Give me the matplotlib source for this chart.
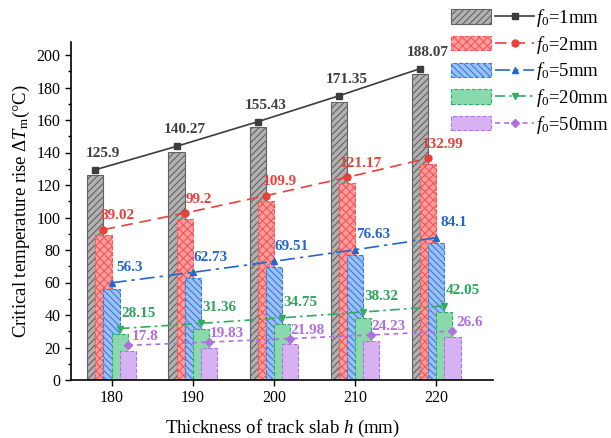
import numpy as np
import matplotlib
matplotlib.use("Agg")
import matplotlib.pyplot as plt
from matplotlib.transforms import ScaledTranslation
from matplotlib.legend_handler import HandlerTuple
from matplotlib.patches import Patch
from matplotlib.lines import Line2D

plt.rcParams['font.family'] = ['Liberation Serif', 'DejaVu Serif']
plt.rcParams['mathtext.fontset'] = 'custom'
plt.rcParams['mathtext.rm'] = 'Liberation Serif'
plt.rcParams['mathtext.it'] = 'Liberation Serif:italic'
plt.rcParams['mathtext.bf'] = 'Liberation Serif:bold'
plt.rcParams['hatch.linewidth'] = 0.8

# 数据
h = [180, 190, 200, 210, 220]
f1 = [125.9, 140.27, 155.43, 171.35, 188.07]
f2 = [89.02, 99.2, 109.9, 121.17, 132.99]
f5 = [56.3, 62.73, 69.51, 76.63, 84.1]
f20 = [28.15, 31.36, 34.75, 38.32, 42.05]
f50 = [17.8, 19.83, 21.98, 24.23, 26.6]
labels = [r'$f_0$=1mm', r'$f_0$=2mm', r'$f_0$=5mm', r'$f_0$=20mm', r'$f_0$=50mm']

# 样式
series = [
    dict(y=f1, face='#b2b2b2', edge='#626262', hatch='/////', bls='-',
         lc='#3c3c3c', tc='#404040', ls='-', mk='s', off=-2, d=(8, 16.5)),
    dict(y=f2, face='#ff9c9c', edge='#f25858', hatch='xxxx', bls='--',
         lc='#e8403a', tc='#e8403a', ls=(0, (7, 4)), mk='o', off=-1, d=(14, 14)),
    dict(y=f5, face='#9cc2f5', edge='#3a7ae0', hatch='\\\\\\\\\\', bls='--',
         lc='#2466d0', tc='#2466d0', ls=(0, (9, 3, 2, 3)), mk='^', off=0, d=(18, 15)),
    dict(y=f20, face='#8ad9ac', edge='#2fae62', hatch=None, bls='--',
         lc='#2fae62', tc='#2fa35c', ls=(0, (6, 2.5, 1.5, 2.5)), mk='v', off=1, d=(18.5, 15.5)),
    dict(y=f50, face='#d6b2f2', edge='#b070e0', hatch=None, bls='--',
         lc='#b070e0', tc='#b070e0', ls=(0, (3, 2.5)), mk='D', off=2, d=(17.5, 8.5)),
]

fig = plt.figure(figsize=(6.11, 4.38), dpi=100)
ax = fig.add_axes([71 / 611, 58 / 438, 422 / 611, 338 / 438])

x = np.array(h, dtype=float)
width = 2.0
shift_px = 5.7
line_tr = ax.transData + ScaledTranslation(0, shift_px / 100, fig.dpi_scale_trans)

handles = []
for s in series:
    xs = x + s['off']
    ms = 5 if s['mk'] != 'D' else 4.5
    ax.bar(xs, s['y'], width=width, color=s['face'], edgecolor=s['edge'],
           hatch=s['hatch'], linewidth=0.8, linestyle=s['bls'], zorder=2)
    ax.plot(xs, s['y'], color=s['lc'], linestyle=s['ls'], linewidth=1.2,
            marker=s['mk'], markersize=ms, transform=line_tr, zorder=3)
    for xi, yi in zip(xs, s['y']):
        ax.annotate(f"{yi:g}", (xi, yi), xytext=(s['d'][0], s['d'][1] + shift_px),
                    textcoords='offset pixels', ha='center', va='center',
                    fontsize=11, fontweight='bold', color=s['tc'], zorder=4)
    p = Patch(facecolor=s['face'], edgecolor=s['edge'], hatch=s['hatch'],
              linewidth=0.8, linestyle=s['bls'])
    l = Line2D([], [], color=s['lc'], linestyle=s['ls'], linewidth=1.2,
               marker=s['mk'], markersize=ms)
    handles.append((p, l))

ax.set_xlim(175, 227)
ax.set_ylim(0, 208)
ax.set_xticks(h)
ax.set_yticks(np.arange(0, 201, 20))
ax.set_yticks(np.arange(10, 201, 20), minor=True)
ax.tick_params(axis='both', which='major', direction='out', labelsize=11.5, length=4, width=1)
ax.tick_params(axis='y', which='minor', direction='out', length=2.5, width=1)
ax.spines['top'].set_visible(False)
ax.spines['right'].set_visible(False)
ax.spines['left'].set_linewidth(1.2)
ax.spines['bottom'].set_linewidth(1.2)

ax.set_xlabel(r'Thickness of track slab $h$ (mm)', fontsize=13.5, labelpad=8)
ax.set_ylabel(r'Critical temperature rise $\Delta T_{\rm m}$(°C)', fontsize=13.5, labelpad=3)

fig.legend(handles, labels, handler_map={tuple: HandlerTuple(ndivide=None, pad=0.2)},
           loc='upper left', bbox_to_anchor=(451 / 611, 1 - 7 / 438),
           frameon=False, fontsize=13.5, handlelength=4.45, handleheight=0.8,
           handletextpad=0.1, labelspacing=0.25, borderpad=0, borderaxespad=0)

fig.savefig('out.png', dpi=100)
